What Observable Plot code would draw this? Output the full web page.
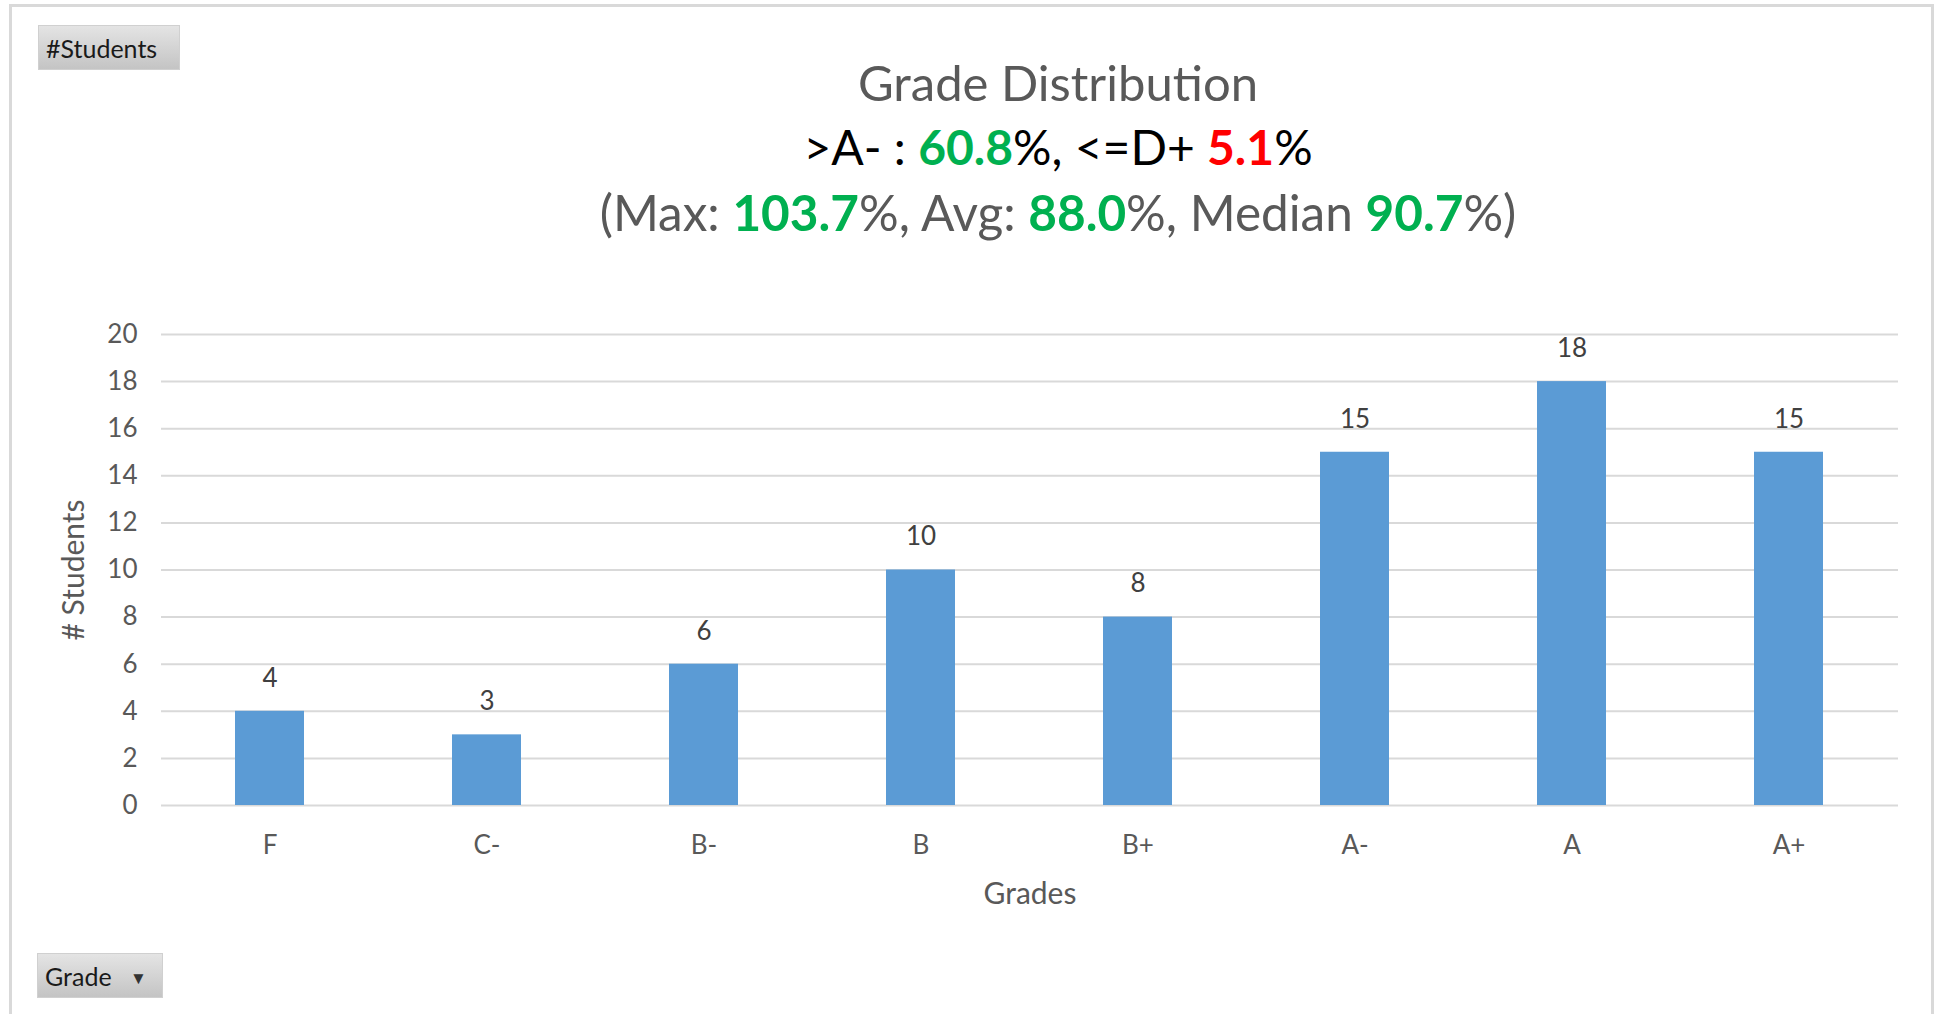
<!DOCTYPE html>
<html>
<head>
<meta charset="utf-8">
<script src="https://cdn.jsdelivr.net/npm/d3@7"></script>
<script src="https://cdn.jsdelivr.net/npm/@observablehq/plot@0.6"></script>
<style>
  html, body { margin: 0; padding: 0; background: #fff; }
  #page { position: relative; width: 1941px; height: 1014px; overflow: hidden; font-family: Lato, "Open Sans", sans-serif; }
  #frame { position: absolute; left: 9px; top: 4px; width: 1925px; height: 1020px; border: 3px solid #d9d9d9; box-sizing: border-box; }
  .btn { position: absolute; background: linear-gradient(#e4e4e4, #c4c4c4); border: 1px solid #d0d0d0; box-sizing: border-box; color: #1a1a1a; font-size: 25px; line-height: 44px; padding-left: 7px; }
  .t { position: absolute; left: 0; width: 2116px; text-align: center; white-space: nowrap; line-height: 1.2; }
  .g { color: #00b050; font-weight: bold; }
  .r { color: #ff0000; font-weight: bold; }
  #chart { position: absolute; left: 0; top: 250px; }
</style>
</head>
<body>
<div id="page">
  <div id="frame"></div>
  <div class="btn" style="left:38px;top:25px;width:142px;height:45px;">#Students</div>
  <div class="btn" style="left:37px;top:953px;width:126px;height:45px;">Grade <span style="font-size:17px;margin-left:12px;color:#333;vertical-align:2px;">&#9660;</span></div>
  <div class="t" id="t1" style="top:53px;font-size:49px;color:#595959;">Grade Distribution</div>
  <div class="t" id="t2" style="top:118px;font-size:48px;color:#000;">&gt;A- : <span class="g">60.8</span>%, &lt;=D+ <span class="r">5.1</span>%</div>
  <div class="t" id="t3" style="top:183px;font-size:49.5px;color:#595959;">(Max: <span class="g">103.7</span>%, Avg: <span class="g">88.0</span>%, Median <span class="g">90.7</span>%)</div>
  <div id="chart"></div>
</div>
<script>
const grades = ["F", "C-", "B-", "B", "B+", "A-", "A", "A+"];
const counts = [4, 3, 6, 10, 8, 15, 18, 15];
const yTicks = [0, 2, 4, 6, 8, 10, 12, 14, 16, 18, 20];

const data = grades.map((g, i) => ({grade: g, count: counts[i]}));

const chart = Plot.plot({
  width: 1941,
  height: 764,
  marginTop: 84,
  marginBottom: 209,
  marginLeft: 161,
  marginRight: 43,
  style: {fontFamily: "Lato, 'Open Sans', sans-serif", fontSize: "26px", color: "#595959", background: "transparent"},
  x: {domain: grades, paddingInner: 0.68, paddingOuter: 0.34, label: null},
  y: {domain: [0, 20], label: null},
  marks: [
    Plot.ruleY(yTicks, {stroke: "#d9d9d9", strokeWidth: 2}),
    Plot.barY(data, {x: "grade", y: "count", fill: "#5b9bd5", inset: 0}),
    Plot.text(data, {x: "grade", y: "count", text: d => String(d.count), dy: -33, fill: "#404040", fontSize: 26}),
    Plot.axisY({ticks: yTicks, tickSize: 0, tickPadding: 24, fontSize: 26, fill: "#595959", label: null}),
    Plot.axisX({tickSize: 0, tickPadding: 30, fontSize: 26, fill: "#595959", label: null}),
    Plot.text(["# Students"], {frameAnchor: "left", textAnchor: "middle", dx: -87, rotate: -90, fill: "#595959", fontSize: 30}),
    Plot.text(["Grades"], {frameAnchor: "bottom", textAnchor: "middle", dy: 98, fill: "#595959", fontSize: 30})
  ]
});
document.getElementById("chart").appendChild(chart);
</script>
</body>
</html>
